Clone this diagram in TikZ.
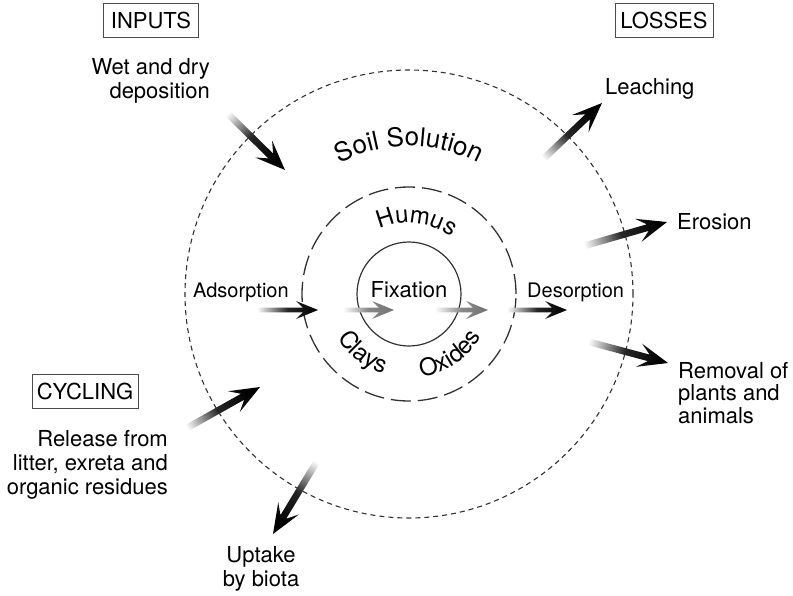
\documentclass[tikz,border=0pt]{standalone}
\usepackage{fontspec}
\setmainfont{TeX Gyre Heros}
\usetikzlibrary{calc,decorations.text}
\colorlet{arrowgray}{black!55}

% #1 tail, #2 tip, #3 shaft half width, #4 head half width, #5 head length, #6 notch depth, #7 colour
\newcommand\fadearrow[7]{%
  \path let \p1=(#1), \p2=(#2), \n1={atan2(\y2-\y1,\x2-\x1)} in
    \pgfextra{\pgfmathsetmacro\fadeangtmp{\n1+90}\global\let\fadeang\fadeangtmp};
  \coordinate (fb) at ($(#2)!#5pt!(#1)$);
  \coordinate (fn) at ($(#2)!#6pt!(#1)$);
  \shade[top color=white, bottom color=#7, middle color=#7!85, shading angle=\fadeang]
    ($(#1)!#3pt!90:(#2)$) -- ($(fn)!#3pt!-90:(#1)$) -- ($(fb)!#4pt!-90:(#1)$) -- (#2)
    -- ($(fb)!#4pt!90:(#1)$) -- ($(fn)!#3pt!90:(#1)$) -- ($(#1)!#3pt!-90:(#2)$) -- cycle;
}
\newcommand\bigarrow[2]{\fadearrow{#1}{#2}{3.4}{12}{30}{20}{black}}
\newcommand\smallarrow[2]{\fadearrow{#1}{#2}{2.3}{9}{22}{15}{black}}
\newcommand\grayarrow[2]{\fadearrow{#1}{#2}{2.3}{9}{22}{15}{arrowgray}}

\begin{document}
\begin{tikzpicture}[x=1pt,y=1pt,
  lbl/.style={font=\fontsize{22}{24}\selectfont, inner sep=0pt},
  smalllbl/.style={font=\fontsize{20}{24}\selectfont, inner sep=0pt},
  boxlbl/.style={draw=black!70, line width=0.9pt, minimum height=34pt, inner sep=0pt,
                 font=\fontsize{22}{24}\selectfont},
  outerring/.style={draw=black!80, line width=1.1pt, dash pattern=on 5pt off 4pt},
  middlering/.style={draw=black!80, line width=1.3pt, dash pattern=on 20pt off 7pt},
  innerring/.style={draw=black!80, line width=1.2pt},
  ringtext/.style={decorate, decoration={text along path, text align=center, text={#1}}}
]
\useasboundingbox (0,0) rectangle (793,-595);
\fill[white] (0,0) rectangle (793,-595);

\coordinate (C) at (409,-294);

% rings
\draw[outerring] (C) circle[radius=224];
\draw[middlering] (C) circle[radius=107];
\draw[innerring] (C) circle[radius=52];

% curved texts
\path[ringtext={|\fontsize{26}{30}\selectfont|Soil Solution}]
  ($(C)+(151:148)$) arc[start angle=151, end angle=29, radius=148];
\path[ringtext={|\fontsize{24}{28}\selectfont|Humus}]
  ($(C)+(144:71)$) arc[start angle=144, end angle=24, radius=71];
\path[ringtext={|\fontsize{24}{28}\selectfont|Clays}]
  ($(C)+(198:84)$) arc[start angle=198, end angle=266, radius=84];
\path[ringtext={|\fontsize{24}{28}\selectfont|Oxides}]
  ($(C)+(270:84)$) arc[start angle=270, end angle=338, radius=84];

% boxes
\node[boxlbl, minimum width=95pt] (inputs) at (151,-20) {INPUTS};
\node[boxlbl, minimum width=98pt] (losses) at (664,-20) {LOSSES};
\node[boxlbl, minimum width=106pt] (cycling) at (85,-391) {CYCLING};

% labels
\node[lbl, align=right, anchor=east] (wet) at (210,-81) {Wet and dry\\deposition};
\node[lbl, anchor=base west] (leach) at (605,-94) {Leaching};
\node[lbl, anchor=base west] (erosion) at (677,-229) {Erosion};
\node[lbl, align=left, anchor=west, font=\fontsize{22}{22.5}\selectfont] (removal) at (678,-393)
  {Removal of\\plants and\\animals};
\node[smalllbl, anchor=base west] (desorp) at (527,-297) {Desorption};
\node[smalllbl, anchor=base west] (adsorp) at (193,-297) {Adsorption};
\node[lbl, anchor=base] (fix) at (409,-297) {Fixation};
\node[lbl, align=right, anchor=east] (release) at (168,-465)
  {Release from\\litter, exreta and\\organic residues};
\node[lbl, align=center] (uptake) at (261,-569) {Uptake\\by biota};

% arrow end points
\coordinate (wetT) at (220,-106);   \coordinate (wetH) at (285,-170);
\coordinate (leachT) at (536,-166); \coordinate (leachH) at (602,-103);
\coordinate (eroT) at (577,-248);   \coordinate (eroH) at (667,-222);
\coordinate (remT) at (582,-340);   \coordinate (remH) at (668,-363);
\coordinate (desT) at (507,-310);   \coordinate (desH) at (567,-310);
\coordinate (adsT) at (257,-310);   \coordinate (adsH) at (318,-310);
\coordinate (g1T) at (343,-310);    \coordinate (g1H) at (394,-310);
\coordinate (g2T) at (435,-310);    \coordinate (g2H) at (488,-310);
\coordinate (relT) at (178,-433);   \coordinate (relH) at (260,-387);
\coordinate (upT) at (322,-453);    \coordinate (upH) at (273,-534);

\bigarrow{wetT}{wetH}
\bigarrow{leachT}{leachH}
\bigarrow{eroT}{eroH}
\bigarrow{remT}{remH}
\bigarrow{relT}{relH}
\bigarrow{upT}{upH}
\smallarrow{desT}{desH}
\smallarrow{adsT}{adsH}
\grayarrow{g1T}{g1H}
\grayarrow{g2T}{g2H}
\end{tikzpicture}
\end{document}
